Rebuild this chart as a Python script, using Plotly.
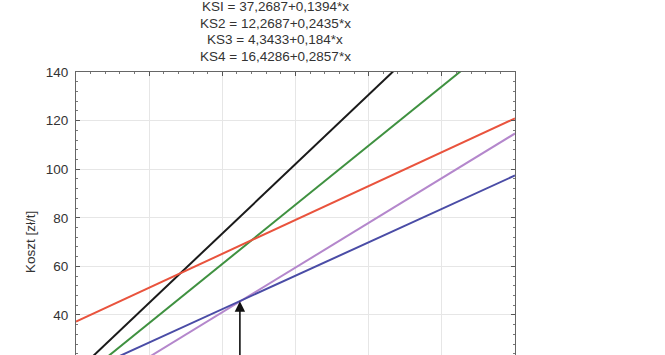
import plotly.graph_objects as go

# Data
x_ends = [0, 600]
ks1 = [37.3, 120.9]   # red
ks2 = [12.3, 158.4]   # green
ks3 = [4.3, 114.7]    # purple
ks4 = [16.4, 187.8]   # black
ks5 = [14.9, 97.4]    # blue
arrow_x = 224
arrow_y = 45.6
title_lines = [
    "KSI = 37,2687+0,1394*x",
    "KS2 = 12,2687+0,2435*x",
    "KS3 = 4,3433+0,184*x",
    "KS4 = 16,4286+0,2857*x",
]
y_ticks = [40, 60, 80, 100, 120, 140]

series = [
    (ks4, "#1a1a1a"),
    (ks2, "#3f9140"),
    (ks1, "#e9533d"),
    (ks3, "#b487cc"),
    (ks5, "#4a4ca6"),
]

fig = go.Figure()
for ys, col in series:
    fig.add_trace(go.Scatter(x=x_ends, y=ys, mode="lines",
                             line=dict(color=col, width=2), showlegend=False,
                             hoverinfo="skip"))

L, R, T = 76, 515, 72          # screen coordinates of plot area
W, H = 665, 356
ymin = 23.1

fig.update_layout(
    width=W, height=H,
    margin=dict(l=L, r=W - R, t=T, b=0, pad=0),
    paper_bgcolor="white", plot_bgcolor="white",
    font=dict(family="Liberation Sans, Arial, sans-serif", color="#333333", size=13),
    xaxis=dict(range=[0, 600], side="top", showticklabels=False,
               dtick=100, ticks="inside", ticklen=4, tickcolor="#555",
               minor=dict(dtick=20, ticks="inside", ticklen=2, tickcolor="#777", showgrid=False),
               showgrid=True, gridcolor="#e6e6e6", gridwidth=1,
               showline=True, linecolor="#666", linewidth=1.2, mirror=False,
               zeroline=False, fixedrange=True),
    yaxis=dict(range=[ymin, 140], tickvals=y_ticks, ticks="inside", ticklen=4,
               tickcolor="#555",
               minor=dict(dtick=4, ticks="inside", ticklen=2, tickcolor="#777", showgrid=False),
               showgrid=True, gridcolor="#e6e6e6", gridwidth=1,
               showline=True, linecolor="#666", linewidth=1.2, mirror="ticks",
               zeroline=False, tickfont=dict(size=13.5, color="#333"),
               ticklabelstandoff=4, fixedrange=True),
)

PH = H - T
PW = R - L

# Title lines
for i, t in enumerate(title_lines):
    fig.add_annotation(text=t, xref="paper", yref="paper",
                       x=(275 - L) / PW, y=1 + (T - (7 + 16.4 * i)) / PH,
                       xanchor="center", yanchor="middle", showarrow=False,
                       font=dict(size=13.5, color="#333"))

# y-axis title
fig.add_annotation(text="Koszt [zł/t]", xref="paper", yref="y",
                   x=(30 - L) / PW, y=70, textangle=-90,
                   xanchor="center", yanchor="middle", showarrow=False,
                   font=dict(size=13.5, color="#333"))

# Arrow
fig.add_annotation(x=arrow_x, y=arrow_y, ax=arrow_x, ay=10,
                   xref="x", yref="y", axref="x", ayref="y",
                   showarrow=True, arrowhead=2, arrowsize=1.3, arrowwidth=1.6,
                   arrowcolor="#111", text="")

fig.write_html("out.html", config={"displayModeBar": False},
               post_script="document.body.style.margin='0';document.body.style.overflow='hidden';")
